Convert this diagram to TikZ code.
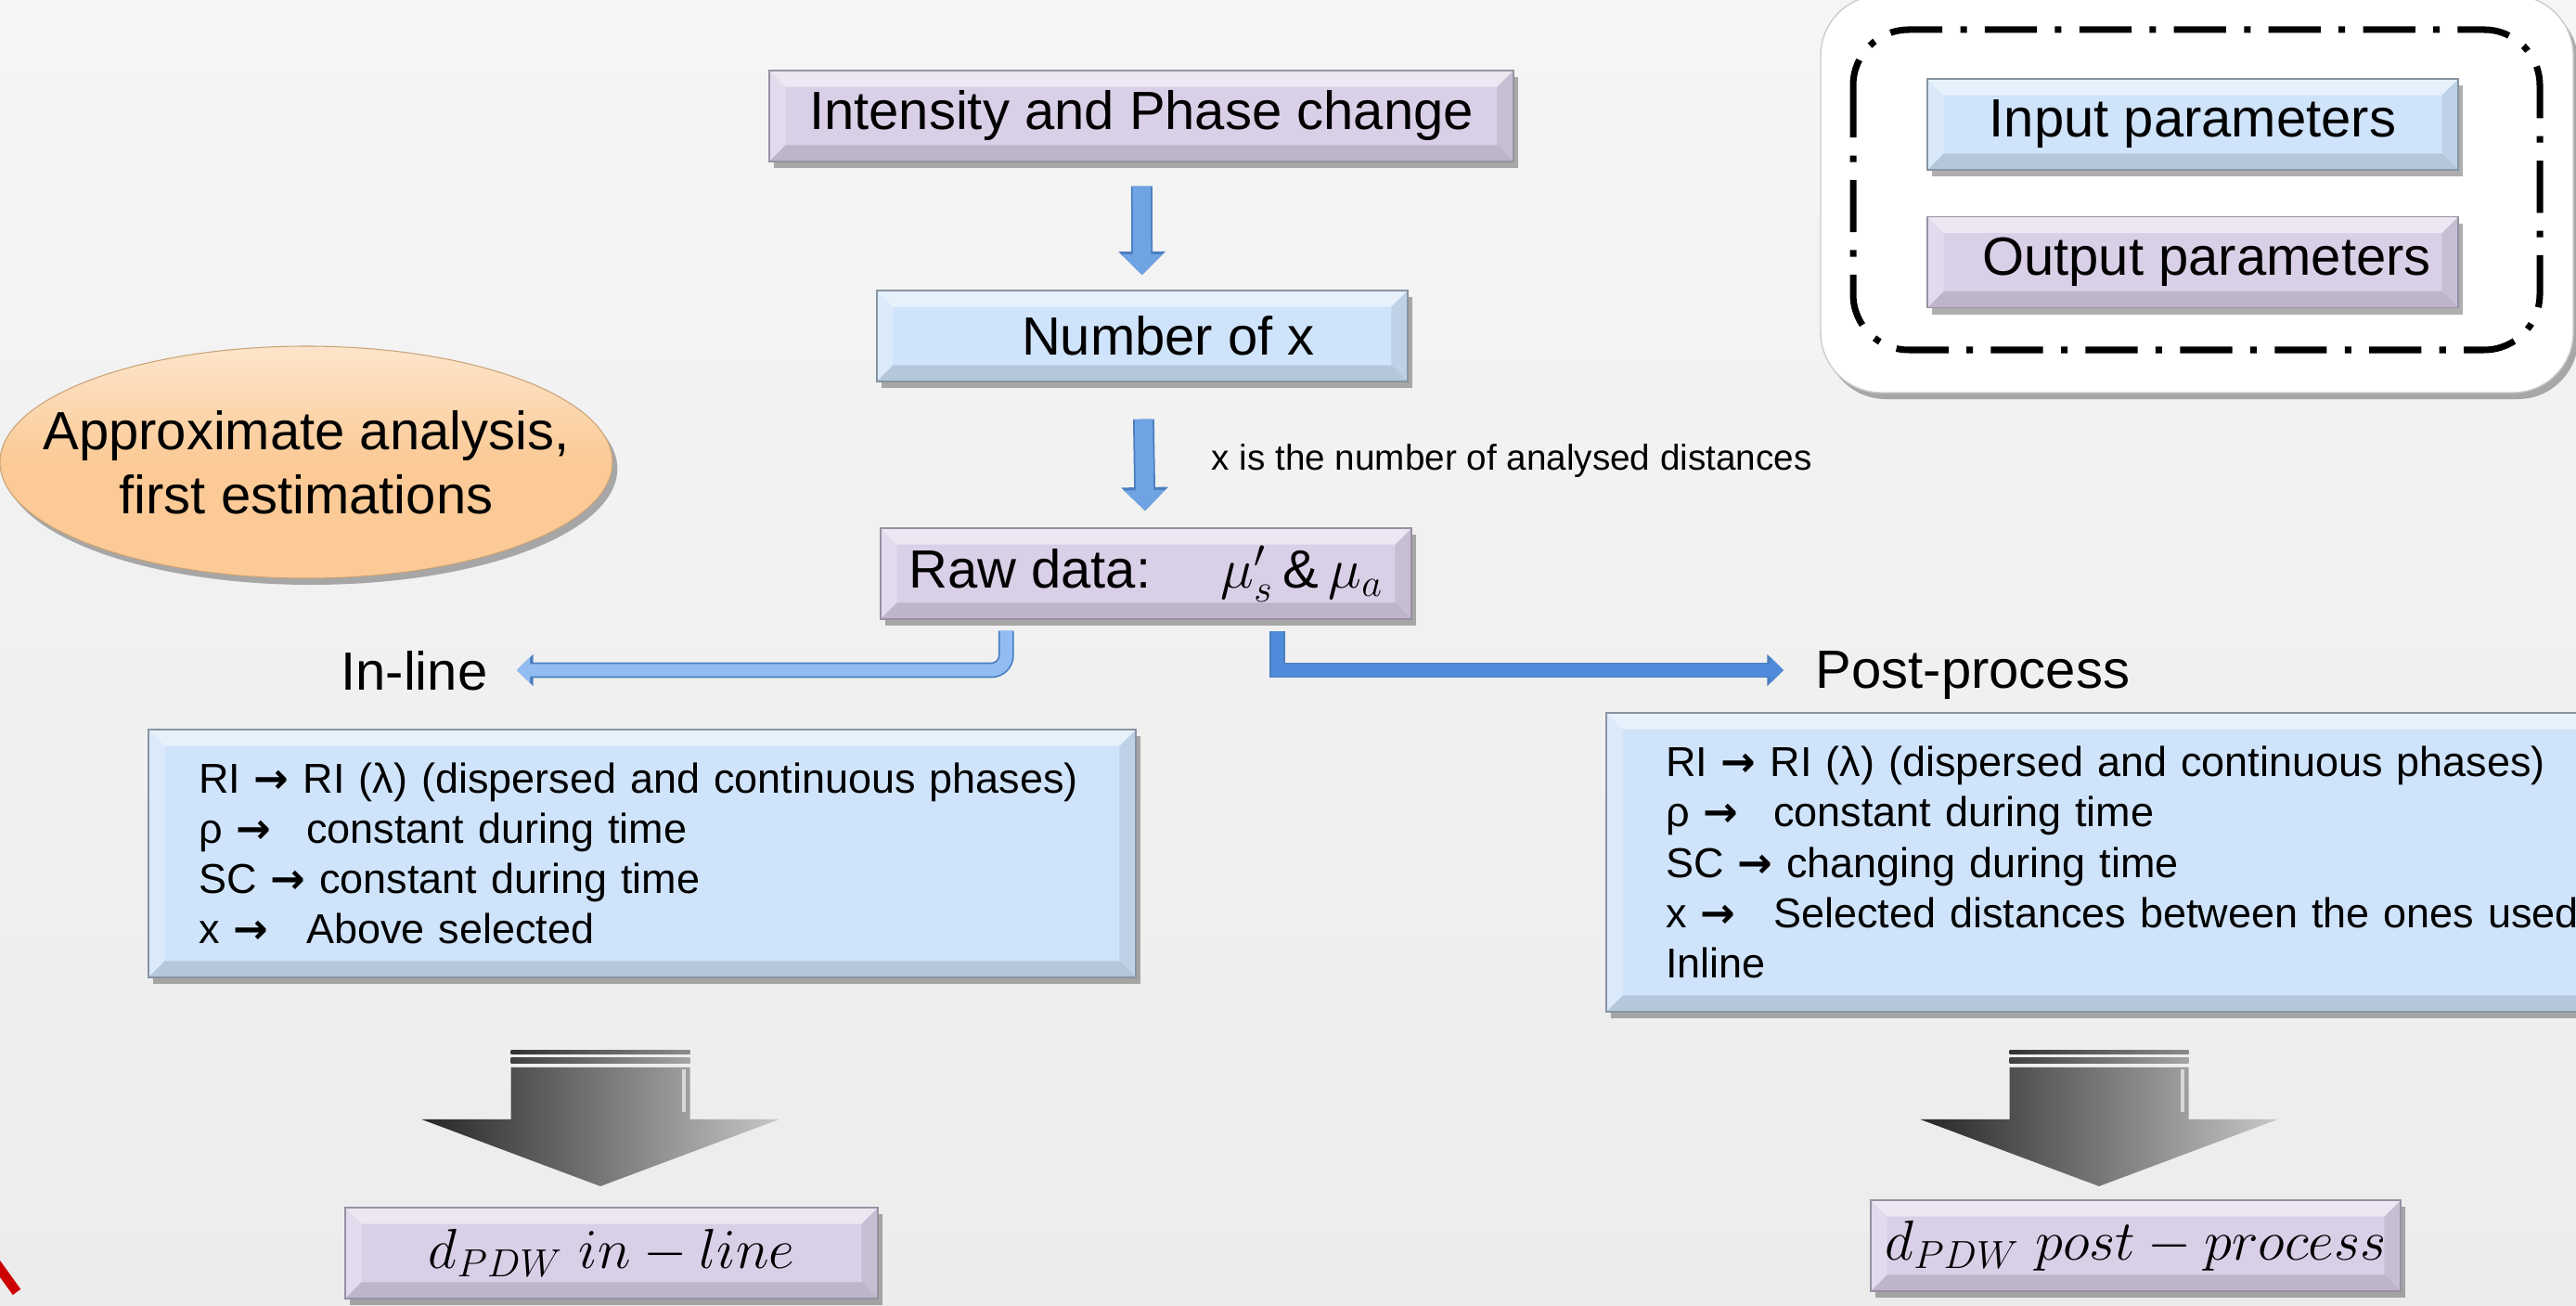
\documentclass[tikz,border=0pt]{standalone}
\usepackage{fontspec}
\setmainfont{Liberation Sans}
\newfontfamily\arrowfont{DejaVu Sans}
\usetikzlibrary{arrows.meta, calc, shapes.geometric, shadows}
\definecolor{bgtop}{HTML}{F5F5F5}
\definecolor{bgbot}{HTML}{ECECEC}
\definecolor{outfill}{HTML}{D9CFE7}
\definecolor{infill}{HTML}{CFE3FA}
\definecolor{peach}{HTML}{FBCA96}
\definecolor{arrowblue}{HTML}{6FA3E3}
\definecolor{arrowedge}{HTML}{4A7EBF}
\definecolor{lightblue}{HTML}{92BDF3}
\definecolor{deepblue}{HTML}{4F8BDA}
\newcommand{\rarr}{{\arrowfont\bfseries →}}
\newcommand{\arrowlead}[1]{\makebox[2.58em][l]{#1}}

\tikzset{
  bevel/.style={path picture={
    \fill[white, opacity=0.5] (path picture bounding box.north west) -- (path picture bounding box.north east)
      -- ([shift={(-5pt,-5pt)}]path picture bounding box.north east) -- ([shift={(5pt,-5pt)}]path picture bounding box.north west) -- cycle;
    \fill[white, opacity=0.25] (path picture bounding box.north west) -- (path picture bounding box.south west)
      -- ([shift={(5pt,5pt)}]path picture bounding box.south west) -- ([shift={(5pt,-5pt)}]path picture bounding box.north west) -- cycle;
    \fill[black, opacity=0.08] (path picture bounding box.north east) -- (path picture bounding box.south east)
      -- ([shift={(-5pt,5pt)}]path picture bounding box.south east) -- ([shift={(-5pt,-5pt)}]path picture bounding box.north east) -- cycle;
    \fill[black, opacity=0.12] (path picture bounding box.south west) -- (path picture bounding box.south east)
      -- ([shift={(-5pt,5pt)}]path picture bounding box.south east) -- ([shift={(5pt,5pt)}]path picture bounding box.south west) -- cycle;
  }},
  boxshadow/.style={drop shadow={shadow xshift=1.5pt, shadow yshift=-2pt, opacity=0.45, fill=black!70}},
  outbox/.style={rectangle, fill=outfill, draw=outfill!70!black, line width=0.4pt,
    minimum width=5.72cm, minimum height=0.98cm, font=\fontsize{16.5}{19}\selectfont, boxshadow, bevel},
  inbox/.style={outbox, fill=infill, draw=infill!65!black},
  textbox/.style={inbox, align=left, inner ysep=0pt, font=\fontsize{12.8}{15.4}\selectfont},
  branchtxt/.style={inner sep=0pt, text depth=0pt, font=\fontsize{16.5}{19}\selectfont},
  sidenote/.style={inner sep=0pt, font=\fontsize{11}{13}\selectfont},
  vconn/.style={draw=arrowblue, line width=5.5pt, -{Triangle[width=12pt,length=6.3pt]},
    preaction={draw=arrowedge, line width=6.5pt, -{Triangle[width=14pt,length=7.2pt]}}},
  inconn/.style={draw=lightblue, line width=3.8pt, -{Triangle[width=7.5pt,length=4pt]},
    preaction={draw=arrowedge, line width=4.8pt, -{Triangle[width=9.5pt,length=5pt]}}},
  postconn/.style={draw=deepblue, line width=3.8pt, -{Triangle[width=7.5pt,length=4pt]},
    preaction={draw=arrowedge, line width=4.8pt, -{Triangle[width=9.5pt,length=5pt]}}},
  legendframe/.style={draw=black, line width=2pt, rounded corners=0.6cm,
    dash pattern=on 16pt off 5.5pt on 2pt off 5.5pt},
}

\begin{document}
\begin{tikzpicture}
\shade[top color=bgtop, bottom color=bgbot] (0,0) rectangle (27.76,-14.07);
\useasboundingbox (0,0) rectangle (27.76,-14.07);

% legend
\draw[fill=white, draw=black!20, rounded corners=0.65cm, boxshadow] (19.62,0.05) rectangle (27.73,-4.23);
\draw[legendframe] (19.97,-0.32) rectangle (27.37,-3.77);
\node[inbox] (inp) at (23.63,-1.34) {Input parameters};
\node[outbox] (outp) at (23.63,-2.825) {\hspace{0.3cm}Output parameters};

% main chain
\node[outbox, minimum width=8.02cm] (intens) at (12.30,-1.25) {Intensity and Phase change};
\node[inbox] (numx) at (12.31,-3.62) {\hspace{0.56cm}Number of x};
\node[outbox] (raw) at (12.35,-6.18) {Raw data:\hspace{1.3em}$\mu_s'\,\&\,\mu_a$};
\node[sidenote, anchor=west] (xnote) at (13.05,-4.97) {x is the number of analysed distances};

\node[ellipse, minimum width=6.6cm, minimum height=2.5cm, inner sep=0pt,
  top color=peach!50!white, bottom color=peach, middle color=peach,
  draw=peach!80!black, line width=0.3pt, boxshadow] (approx) at (3.30,-4.98) {};
\node[align=center, font=\fontsize{16.5}{19.6}\selectfont] (approxtxt) at (approx) {Approximate analysis,\\first estimations};

\draw[vconn, shorten <=0.26cm, shorten >=0.16cm] (intens) -- (numx);
\draw[vconn, shorten <=0.40cm, shorten >=0.18cm] (numx) -- (raw);

% branches
\node[branchtxt, anchor=east] (inl) at (5.26,-7.22) {In-line};
\node[branchtxt, anchor=west] (post) at (19.56,-7.22) {Post-process};
\draw[inconn, rounded corners=0.16cm, shorten >=0.31cm] ([xshift=1.36cm,yshift=-0.12cm]raw.south west) |- (inl.east);
\draw[postconn, shorten >=0.34cm] ([xshift=-1.45cm,yshift=-0.12cm]raw.south east) |- (post.west);

\node[textbox, minimum width=10.64cm, minimum height=2.67cm, text width=9.56cm, inner xsep=0.54cm] (inlist) at (6.92,-9.195) {%
RI \rarr{} RI (λ) (dispersed and continuous phases)\\
\arrowlead{ρ \rarr}constant during time\\
SC \rarr{} constant during time\\
\arrowlead{x \rarr}Above selected};
\node[textbox, minimum width=11.30cm, minimum height=3.22cm, text width=10.02cm, inner xsep=0.64cm] (postlist) at (22.96,-9.29) {%
RI \rarr{} RI (λ) (dispersed and continuous phases)\\
\arrowlead{ρ \rarr}constant during time\\
SC \rarr{} changing during time\\
\arrowlead{x \rarr}Selected distances between the ones used\\
Inline};

% grey block arrows
\foreach \ax in {6.47, 22.62} {
  \begin{scope}[shift={(\ax,-12.78)}]
    \shade[left color=black!85, right color=black!22]
      (-0.965,1.28) -- (0.965,1.28) -- (0.965,0.72) -- (1.925,0.72) -- (0,0) -- (-1.925,0.72) -- (-0.965,0.72) -- cycle;
    \draw[white, opacity=0.6, line width=1pt] (0.90,1.26) -- (0.90,0.80);
    \shade[left color=black!75, right color=black!35] (-0.965,1.32) rectangle (0.965,1.38);
    \shade[left color=black!80, right color=black!45] (-0.965,1.42) rectangle (0.965,1.46);
  \end{scope}
}

\node[outbox, minimum width=5.74cm, font=\fontsize{17}{20}\selectfont] (dinl) at (6.59,-13.50) {$d_{PDW}\;in-line$};
\node[outbox, minimum width=5.71cm, font=\fontsize{17}{20}\selectfont] (dpost) at (23.015,-13.42) {$d_{PDW}\;post-process$};

\draw[draw=red!80!black, line width=3pt] (-0.05,-13.60) -- (0.18,-13.92);
\end{tikzpicture}
\end{document}
